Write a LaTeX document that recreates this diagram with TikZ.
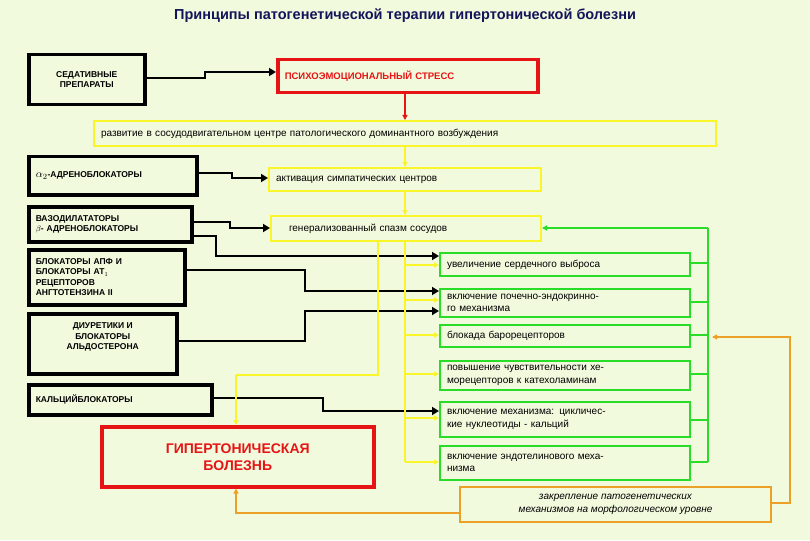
\documentclass[tikz,border=0pt]{standalone}
\usepackage{fontspec}
\setmainfont{Liberation Sans}
\usetikzlibrary{arrows.meta}
\definecolor{bg}{RGB}{242,250,222}
\definecolor{ttl}{RGB}{20,20,90}
\definecolor{yel}{RGB}{250,245,40}
\definecolor{grn}{RGB}{40,220,40}
\definecolor{org}{RGB}{235,160,40}
\definecolor{rd}{RGB}{230,20,20}
\begin{document}
\begin{tikzpicture}[x=1pt,y=-1pt,
 bx/.style={anchor=north west,inner ysep=0pt,inner xsep=6pt,font=\bfseries\fontsize{8.5}{10.5}\selectfont},
 blk/.style={bx,draw=black,line width=3.5pt},
 ylw/.style={bx,draw=yel,line width=2pt,font=\fontsize{10}{12}\selectfont},
 gbx/.style={bx,draw=grn,line width=2pt,font=\fontsize{10}{12.5}\selectfont,align=left,text width=236pt},
 barr/.style={line width=2.5pt,-{Triangle[length=7pt,width=8pt]}},
 yarr/.style={yel,line width=1.5pt,-{Triangle[length=5pt,width=5pt]}},
 garr/.style={grn,line width=1.5pt,-{Triangle[length=5pt,width=5pt]}},
 oarr/.style={org,line width=1.5pt,-{Triangle[length=5pt,width=5pt]}}]
\fill[bg] (0,0) rectangle (810,540);
\node[font=\bfseries\fontsize{14.5}{16}\selectfont,text=ttl] (title) at (405,16) {Принципы патогенетической терапии гипертонической болезни};
\node[blk,minimum width=116,minimum height=50,align=center] (sed) at (27,53) {СЕДАТИВНЫЕ\\ПРЕПАРАТЫ};
\node[bx,draw=rd,line width=3.5pt,minimum width=260,minimum height=33,text=rd,font=\bfseries\fontsize{9.5}{11}\selectfont,align=left,text width=246pt] (stress) at (276,58) {ПСИХОЭМОЦИОНАЛЬНЫЙ СТРЕСС};
\node[ylw,minimum width=622,minimum height=25,align=left,text width=608pt] (razv) at (93,120) {развитие в сосудодвигательном центре патологического доминантного возбуждения};
\node[blk,minimum width=168,minimum height=38,align=left,text width=154pt] (a2) at (27,155) {{\fontsize{11}{12}\selectfont$\alpha_2$}-АДРЕНОБЛОКАТОРЫ\\[6pt]};
\node[ylw,minimum width=272,minimum height=23,align=left,text width=258pt] (akt) at (268,167) {активация симпатических центров};
\node[blk,minimum width=163,minimum height=35,align=left,text width=149pt] (vaz) at (27,205) {ВАЗОДИЛАТАТОРЫ\\$\beta$- АДРЕНОБЛОКАТОРЫ};
\node[ylw,minimum width=270,minimum height=25,align=left,text width=246pt] (spazm) at (270,215) {\hspace{6pt}генерализованный спазм сосудов};
\node[blk,minimum width=156,minimum height=55,align=left,text width=142pt] (apf) at (27,248) {БЛОКАТОРЫ АПФ И\\БЛОКАТОРЫ АТ$_1$\\РЕЦЕПТОРОВ\\АНГТОТЕНЗИНА II};
\node[blk,minimum width=148,minimum height=60,align=center] (diur) at (27,312) {ДИУРЕТИКИ И\\БЛОКАТОРЫ\\АЛЬДОСТЕРОНА\\[4pt]};
\node[blk,minimum width=183,minimum height=30,align=left,text width=169pt] (kal) at (27,383) {КАЛЬЦИЙБЛОКАТОРЫ\\[4pt]};
\node[bx,draw=rd,line width=3.5pt,minimum width=272,minimum height=60,text=rd,font=\bfseries\fontsize{14}{17}\selectfont,align=center] (gb) at (100,425) {ГИПЕРТОНИЧЕСКАЯ\\БОЛЕЗНЬ};
\node[gbx,minimum width=250,minimum height=23] (g1) at (439,252) {увеличение сердечного выброса};
\node[gbx,minimum width=250,minimum height=28] (g2) at (439,288) {включение почечно-эндокринно-\\го механизма};
\node[gbx,minimum width=250,minimum height=22] (g3) at (439,324) {блокада барорецепторов};
\node[gbx,minimum width=250,minimum height=29] (g4) at (439,360) {повышение чувствительности хе-\\морецепторов к катехоламинам};
\node[gbx,minimum width=250,minimum height=35] (g5) at (439,401) {включение механизма: цикличес-\\кие нуклеотиды - кальций};
\node[gbx,minimum width=250,minimum height=34] (g6) at (439,445) {включение эндотелинового меха-\\низма};
\node[bx,draw=org,line width=2pt,minimum width=311,minimum height=35,font=\itshape\fontsize{10}{12.5}\selectfont,align=center] (ork) at (459,486) {закрепление патогенетических\\механизмов на морфологическом уровне};
% black arrows
\draw[barr] (sed.east |- 0,78) -- (205,78) -- (205,72) -- (stress.west |- 0,72);
\draw[barr] (a2.east |- 0,173) -- (232,173) -- (232,178) -- (akt.west |- 0,178);
\draw[barr] (vaz.east |- 0,222) -- (230,222) -- (230,228) -- (spazm.west |- 0,228);
\draw[barr] (vaz.east |- 0,236) -- (216,236) -- (216,256) -- (g1.west |- 0,256);
\draw[barr] (apf.east |- 0,270) -- (305,270) -- (305,291) -- (g2.west |- 0,291);
\draw[barr] (diur.east |- 0,341) -- (305,341) -- (305,311) -- (g2.west |- 0,311);
\draw[barr] (kal.east |- 0,398) -- (323,398) -- (323,411) -- (g5.west |- 0,411);
% red
\draw[rd,line width=1.5pt,-{Triangle[length=5pt,width=5pt]}] (stress.south -| 405,0) -- (razv.north -| 405,0);
% yellow
\draw[yarr] (razv.south -| 405,0) -- (akt.north -| 405,0);
\draw[yarr] (akt.south -| 405,0) -- (spazm.north -| 405,0);
\draw[yel,line width=1.5pt] (spazm.south -| 405,0) -- (405,462);
\draw[yel,line width=1.5pt] (spazm.south -| 378,0) -- (378,375) -- (236,375);
\draw[yarr] (236,375) -- (gb.north -| 236,0);
\foreach \g/\y in {g1/265,g2/300,g3/335,g4/374,g5/418,g6/462}
  \draw[yarr] (405,\y) -- (\g.west |- 0,\y);
% green
\foreach \g/\y in {g1/263,g2/302,g3/335,g4/374,g5/420,g6/462}
  \draw[grn,line width=1.5pt] (\g.east |- 0,\y) -- (708,\y);
\draw[grn,line width=1.5pt] (708,462) -- (708,228);
\draw[garr] (708,228) -- (spazm.east |- 0,228);
% orange
\draw[oarr] (ork.east |- 0,503) -- (790,503) -- (790,337) -- (712,337);
\draw[oarr] (ork.west |- 0,513) -- (236,513) -- (gb.south -| 236,0);
\end{tikzpicture}
\end{document}
